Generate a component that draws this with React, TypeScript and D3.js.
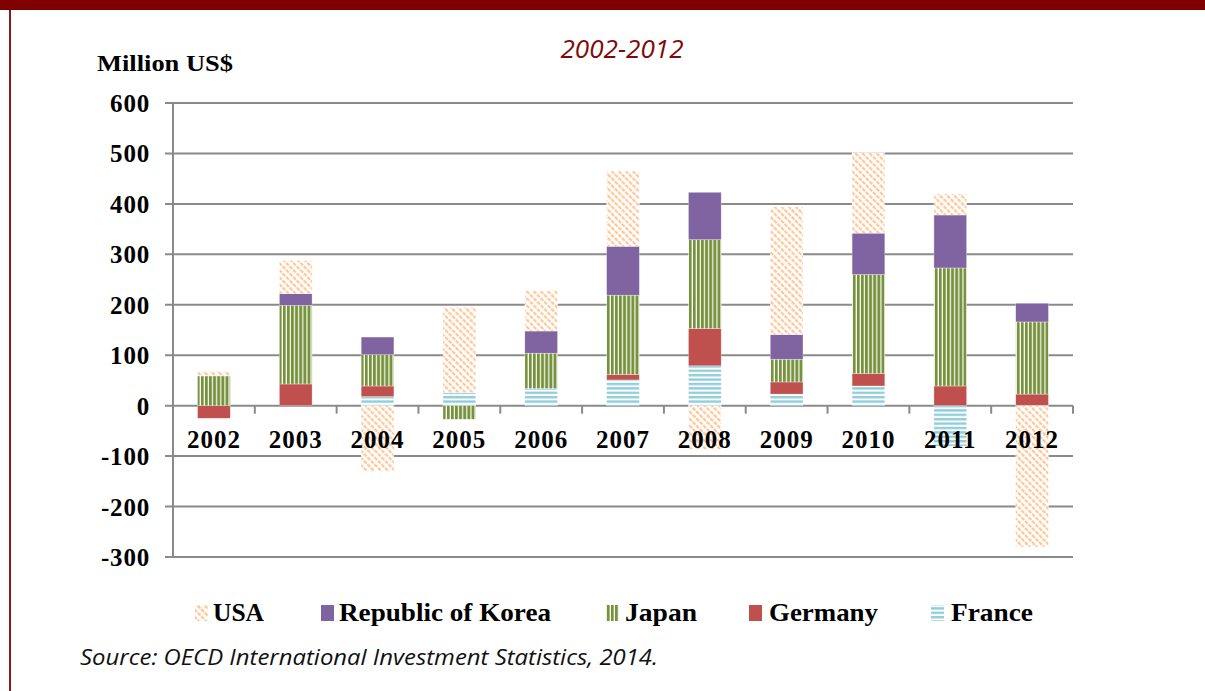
import React from "react";
import * as d3 from "d3";

const years = ["2002", "2003", "2004", "2005", "2006", "2007", "2008", "2009", "2010", "2011", "2012"];
const france = [0, 0, 18, 26, 34, 51, 79, 23, 39, -80, 0];
const germany = [-25, 43, 21, 0, 0, 11, 74, 24, 25, 39, 23];
const japan = [59, 156, 62, -27, 70, 157, 176, 45, 196, 234, 143];
const korea = [0, 23, 35, 0, 44, 97, 94, 49, 82, 105, 37];
const usa = [9, 66, -130, 169, 80, 149, -87, 253, 160, 42, -280];
const yTicks = [600, 500, 400, 300, 200, 100, 0, -100, -200, -300];

const seriesKeys = ["France", "Germany", "Japan", "Korea", "USA"];
const seriesVals: Record<string, number[]> = { France: france, Germany: germany, Japan: japan, Korea: korea, USA: usa };
const fills: Record<string, string> = {
  France: "url(#pFrance)",
  Germany: "#c0504d",
  Japan: "url(#pJapan)",
  Korea: "#8064a2",
  USA: "url(#pUSA)",
};
const legendItems = [
  { key: "USA", label: "USA", sx: 195, tx: 213, tw: 51 },
  { key: "Korea", label: "Republic of Korea", sx: 321, tx: 339, tw: 212 },
  { key: "Japan", label: "Japan", sx: 606, tx: 625, tw: 72 },
  { key: "Germany", label: "Germany", sx: 749, tx: 769, tw: 109 },
  { key: "France", label: "France", sx: 931, tx: 951, tw: 82 },
];

export default function App() {
  const W = 1205, H = 691;
  const left = 173, right = 1073, top = 103, bottom = 557;
  const x = d3.scaleBand<string>().domain(years).range([left, right]).paddingInner(0.6).paddingOuter(0.3);
  const xb = d3.scaleBand<string>().domain(years).range([left, right]);
  const y = d3.scaleLinear().domain([-300, 600]).range([bottom, top]);
  const rows = years.map((yr, i) => {
    const r: any = { year: yr };
    seriesKeys.forEach((k) => (r[k] = seriesVals[k][i]));
    return r;
  });
  const stack = d3.stack<any>().keys(seriesKeys).offset(d3.stackOffsetDiverging).order(d3.stackOrderNone);
  const stacked = stack(rows);
  const serif = "'Liberation Serif', 'Times New Roman', serif";
  const grid = "#8a8a8a";

  return (
    <svg width={W} height={H} style={{ position: "absolute", left: 0, top: 0, background: "#fff" }}>
      <defs>
        <pattern id="pUSA" width={5} height={5} patternUnits="userSpaceOnUse" patternTransform="rotate(-45)">
          <rect width={5} height={5} fill="#fff" />
          <line x1={1.5} y1={0} x2={1.5} y2={5} stroke="#fbbf8c" strokeWidth={2} strokeDasharray="2 1" />
        </pattern>
        <pattern id="pJapan" width={4.1} height={10} patternUnits="userSpaceOnUse">
          <rect width={4.1} height={10} fill="#76923c" />
          <rect x={2.9} width={1.2} height={10} fill="#fff" />
        </pattern>
        <pattern id="pFrance" width={10} height={4.4} patternUnits="userSpaceOnUse">
          <rect width={10} height={4.4} fill="#fff" />
          <rect width={10} height={2.4} fill="#92cddc" />
        </pattern>
      </defs>

      <rect x={0} y={0} width={W} height={10} fill="#800000" />
      <rect x={9} y={10} width={2} height={H - 10} fill="#8b1a1a" />

      <text x={622} y={58} textAnchor="middle" fill="#7f0a0a" fontFamily="'Open Sans', sans-serif" fontStyle="italic" fontSize={25} textLength={123} lengthAdjust="spacingAndGlyphs">2002-2012</text>

      <text x={97} y={71} fontFamily={serif} fontWeight="bold" fontSize={24} fill="#000" textLength={136} lengthAdjust="spacingAndGlyphs">Million US$</text>

      {yTicks.map((t) => (
        <g key={t}>
          <line x1={165} x2={right} y1={y(t)} y2={y(t)} stroke={grid} strokeWidth={2} />
          <text x={150} y={y(t) + 9} textAnchor="end" fontFamily={serif} fontWeight="bold" fontSize={25} letterSpacing={0.8} fill="#000">{t}</text>
        </g>
      ))}
      <line x1={left} x2={left} y1={top} y2={bottom} stroke={grid} strokeWidth={2} />
      {years.map((yr) => (
        <line key={"t" + yr} x1={(xb(yr) as number) + xb.bandwidth()} x2={(xb(yr) as number) + xb.bandwidth()} y1={y(0)} y2={y(0) + 8} stroke={grid} strokeWidth={2} />
      ))}

      {stacked.map((s) => (
        <g key={s.key}>
          {s.map((d, i) => {
            const y0 = y(d[0]), y1 = y(d[1]);
            const h = Math.abs(y0 - y1);
            if (h < 0.01) return null;
            return (
              <rect key={i} x={x(years[i])} width={x.bandwidth()} y={Math.min(y0, y1)} height={h} fill={fills[s.key]} stroke="#fff" strokeOpacity={0.5} strokeWidth={0.6} />
            );
          })}
        </g>
      ))}

      {years.map((yr) => (
        <text key={"l" + yr} x={(xb(yr) as number) + xb.bandwidth() / 2} y={448} textAnchor="middle" fontFamily={serif} fontWeight="bold" fontSize={25} letterSpacing={1} fill="#000">{yr}</text>
      ))}

      {legendItems.map((it) => (
        <g key={it.key}>
          <rect x={it.sx} y={605} width={13} height={16} fill={fills[it.key]} />
          <text x={it.tx} y={621} fontFamily={serif} fontWeight="bold" fontSize={26} fill="#000" textLength={it.tw} lengthAdjust="spacingAndGlyphs">{it.label}</text>
        </g>
      ))}

      <text x={80} y={665} fontFamily="'Open Sans', sans-serif" fontStyle="italic" fontSize={21} fill="#111" textLength={578} lengthAdjust="spacingAndGlyphs">Source: OECD International Investment Statistics, 2014.</text>
    </svg>
  );
}
